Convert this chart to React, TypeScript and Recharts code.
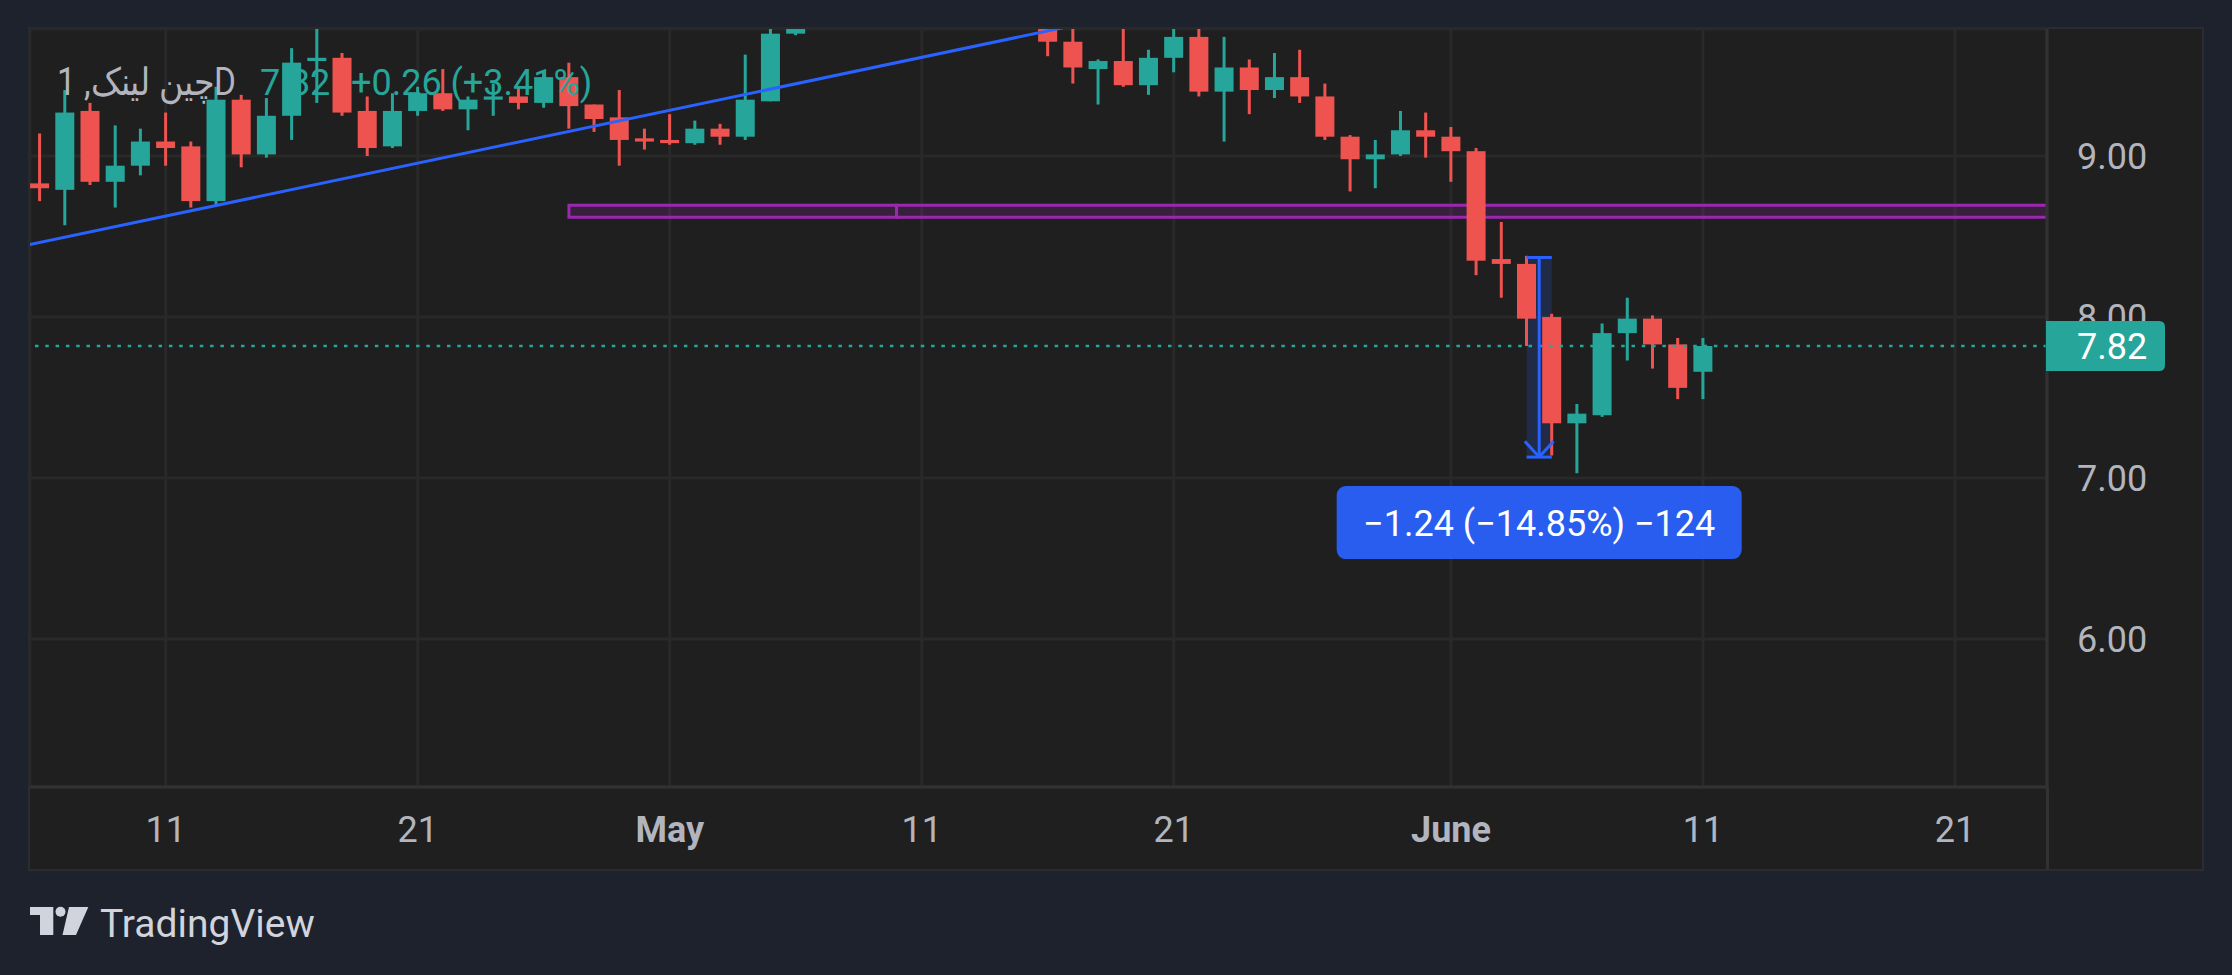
import {
  Bar,
  CartesianGrid,
  ComposedChart,
  ReferenceArea,
  ReferenceLine,
  XAxis,
  YAxis,
} from "recharts";

// day index: days since 1 April (1 Apr = 0)
const days = [
  5, 6, 7, 8, 9, 10, 11, 12, 13, 14, 15, 16, 17, 18, 19, 20, 21, 22, 23, 24, 25,
  26, 27, 28, 29, 30, 31, 32, 33, 34, 35, 45, 46, 47, 48, 49, 50, 51, 52, 53,
  54, 55, 56, 57, 58, 59, 60, 61, 62, 63, 64, 65, 66, 67, 68, 69, 70, 71,
];
const opens = [
  8.83, 8.79, 9.28, 8.84, 8.94, 9.09, 9.06, 8.72, 9.35, 9.01, 9.25, 9.59, 9.61,
  9.28, 9.06, 9.28, 9.39, 9.29, 9.35, 9.37, 9.33, 9.49, 9.32, 9.24, 9.11, 9.1,
  9.08, 9.17, 9.12, 9.34, 9.76, 9.85, 9.71, 9.54, 9.59, 9.44, 9.61, 9.74, 9.4,
  9.55, 9.41, 9.49, 9.37, 9.12, 8.98, 9.01, 9.16, 9.12, 9.03, 8.36, 8.33, 8.0,
  7.34, 7.39, 7.9, 7.99, 7.83, 7.66,
];
const highs = [
  9.14, 9.41, 9.33, 9.19, 9.17, 9.27, 9.09, 9.43, 9.38, 9.36, 9.67, 9.85, 9.64,
  9.37, 9.39, 9.43, 9.54, 9.37, 9.45, 9.43, 9.52, 9.58, 9.32, 9.41, 9.17, 9.26,
  9.22, 9.2, 9.63, 9.85, 10.05, 9.9, 9.82, 9.6, 9.82, 9.66, 9.8, 9.81, 9.74,
  9.6, 9.64, 9.66, 9.45, 9.13, 9.1, 9.28, 9.27, 9.18, 9.05, 8.59, 8.38, 8.02,
  7.46, 7.96, 8.12, 8.01, 7.87, 7.87,
];
const lows = [
  8.72, 8.57, 8.82, 8.68, 8.88, 8.94, 8.68, 8.69, 8.93, 8.99, 9.1, 9.33, 9.25,
  9.0, 9.05, 9.25, 9.28, 9.16, 9.25, 9.29, 9.3, 9.17, 9.15, 8.94, 9.04, 9.07,
  9.07, 9.07, 9.1, 9.34, 9.75, 9.62, 9.45, 9.32, 9.43, 9.38, 9.52, 9.37, 9.09,
  9.26, 9.36, 9.33, 9.1, 8.78, 8.8, 9.0, 8.99, 8.84, 8.26, 8.12, 7.82, 7.14,
  7.03, 7.38, 7.73, 7.68, 7.49, 7.49,
];
const closes = [
  8.8, 9.27, 8.84, 8.94, 9.09, 9.05, 8.72, 9.35, 9.01, 9.25, 9.58, 9.61, 9.27,
  9.05, 9.28, 9.39, 9.29, 9.35, 9.37, 9.33, 9.49, 9.31, 9.23, 9.1, 9.09, 9.08,
  9.17, 9.12, 9.35, 9.76, 9.98, 9.71, 9.55, 9.59, 9.44, 9.61, 9.74, 9.4, 9.55,
  9.41, 9.49, 9.37, 9.12, 8.98, 9.01, 9.16, 9.12, 9.03, 8.35, 8.33, 7.99, 7.34,
  7.4, 7.9, 7.99, 7.83, 7.56, 7.82,
];

const tickDays = [10, 20, 30, 40, 50, 61, 71, 81];
const tickLabels = ["11", "21", "May", "11", "21", "June", "11", "21"];
const monthLabels = ["May", "June"];
const priceTicks = [6, 7, 8, 9];

// drawings on the chart
const trendPoints = [
  { x: 4, y: 8.43 },
  { x: 46, y: 9.81 },
];
const zoneDays = [26, 39, 95];
const zonePrices = [8.619, 8.695];
const measureDays = [64, 65];
const measurePrices = [8.37, 7.13];
const measureText = "−1.24 (−14.85%) −124";

const symbolName = "چین لینک, 1D";
const lastText = "7.82";
const changeText = "+0.26 (+3.41%)";

const UP = "#26a69a";
const DOWN = "#ef5350";
const BLUE = "#2962ff";
const PURPLE = "#9c27b0";
const TEXT = "#b2b5be";

const X_DOMAIN = [4.615, 84.65];
const Y_DOMAIN = [5.081, 9.789];
const MARGIN = { top: 29, right: 30, bottom: 106, left: 30 };

const data = days.map((day, i) => ({
  day,
  open: opens[i],
  high: highs[i],
  low: lows[i],
  close: closes[i],
}));
const lastClose = closes[closes.length - 1];

const Candle = (props: any) => {
  const { x, y, width, height, payload } = props;
  if (!payload || height == null) return null;
  const { open, close, high, low } = payload;
  const color = close >= open ? UP : DOWN;
  const ratio = height / (high - low);
  const top = y + (high - Math.max(open, close)) * ratio;
  const bottom = y + (high - Math.min(open, close)) * ratio;
  const cx = x + width / 2;
  return (
    <g>
      <rect x={cx - 1.5} y={y} width={3} height={height} fill={color} />
      <rect
        x={x}
        y={top}
        width={width}
        height={Math.max(bottom - top, 2)}
        fill={color}
      />
    </g>
  );
};

const DayTick = (props: any) => {
  const { x, y, payload } = props;
  const label = tickLabels[tickDays.indexOf(payload.value)];
  const bold = monthLabels.includes(label);
  return (
    <text
      x={x}
      y={y + 47}
      textAnchor="middle"
      fill={TEXT}
      fontSize={36}
      fontWeight={bold ? 700 : 400}
    >
      {label}
    </text>
  );
};

const PriceTag = (props: any) => {
  const vb = props.viewBox;
  if (!vb) return null;
  const left = vb.x + vb.width - 1;
  const cy = vb.y;
  const w = 119;
  const h = 50;
  const r = 6;
  const t = cy - h / 2;
  const d = `M${left},${t} H${left + w - r} Q${left + w},${t} ${left + w},${t + r} V${t + h - r} Q${left + w},${t + h} ${left + w - r},${t + h} H${left} Z`;
  return (
    <g>
      <path d={d} fill={UP} />
      <text x={left + 31} y={cy + 13} fill="#ffffff" fontSize={36}>
        {lastClose.toFixed(2)}
      </text>
    </g>
  );
};

const MeasureTag = (props: any) => {
  const vb = props.viewBox;
  if (!vb) return null;
  const cx = vb.x + vb.width / 2;
  const w = 405;
  const top = vb.y + 29;
  return (
    <g>
      <rect
        x={cx - w / 2}
        y={top}
        width={w}
        height={73}
        rx={9}
        fill={BLUE}
        fillOpacity={0.93}
      />
      <text
        x={cx}
        y={top + 50}
        textAnchor="middle"
        fill="#ffffff"
        fontSize={36}
      >
        {measureText}
      </text>
    </g>
  );
};

const App = () => {
  const mx = (measureDays[0] + measureDays[1]) / 2;
  const armDx = 0.57;
  const armDy = 0.098;
  return (
    <div
      style={{
        position: "absolute",
        left: 0,
        top: 0,
        width: 2232,
        height: 975,
        background: "#1e222d",
        overflow: "hidden",
        fontFamily: "Roboto, sans-serif",
      }}
    >
      <div
        style={{
          position: "absolute",
          left: 28,
          top: 27,
          width: 2172,
          height: 840,
          background: "#1f1f1f",
          border: "2px solid #2b2c31",
        }}
      />
      <div
        style={{
          position: "absolute",
          left: 2045.5,
          top: 787,
          width: 3,
          height: 82,
          background: "#323232",
        }}
      />
      <div style={{ position: "absolute", left: 0, top: 0 }}>
        <ComposedChart
          width={2232}
          height={975}
          data={data}
          margin={MARGIN}
          style={{ fontFamily: "Roboto, sans-serif" }}
        >
          <CartesianGrid stroke="#292929" strokeWidth={3} />
          <XAxis
            dataKey="day"
            type="number"
            domain={X_DOMAIN}
            allowDataOverflow
            ticks={tickDays}
            interval={0}
            height={82}
            tickLine={false}
            axisLine={{ stroke: "#323232", strokeWidth: 3 }}
            tick={<DayTick />}
          />
          <YAxis
            orientation="right"
            domain={Y_DOMAIN}
            allowDataOverflow
            ticks={priceTicks}
            width={155}
            tickLine={false}
            tickMargin={24}
            axisLine={{ stroke: "#323232", strokeWidth: 3 }}
            tick={{ fill: TEXT, fontSize: 36 }}
            tickFormatter={(v: number) => v.toFixed(2)}
          />
          <ReferenceArea
            x1={zoneDays[0]}
            x2={zoneDays[1]}
            y1={zonePrices[0]}
            y2={zonePrices[1]}
            fill={PURPLE}
            fillOpacity={0.2}
            stroke={PURPLE}
            strokeWidth={3}
            ifOverflow="hidden"
          />
          <ReferenceArea
            x1={zoneDays[1]}
            x2={zoneDays[2]}
            y1={zonePrices[0]}
            y2={zonePrices[1]}
            fill={PURPLE}
            fillOpacity={0.2}
            stroke={PURPLE}
            strokeWidth={3}
            ifOverflow="hidden"
          />
          <ReferenceArea
            x1={measureDays[0]}
            x2={measureDays[1]}
            y1={measurePrices[1]}
            y2={measurePrices[0]}
            fill={BLUE}
            fillOpacity={0.18}
            stroke="none"
          />
          <ReferenceLine
            segment={trendPoints}
            stroke={BLUE}
            strokeWidth={3}
            ifOverflow="hidden"
          />
          <ReferenceLine
            y={lastClose}
            stroke={UP}
            strokeWidth={2.7}
            strokeDasharray="3.5 6.8"
          />
          <ReferenceLine
            segment={[
              { x: mx, y: measurePrices[0] },
              { x: mx, y: measurePrices[1] },
            ]}
            stroke={BLUE}
            strokeWidth={3}
          />
          <ReferenceLine
            segment={[
              { x: measureDays[0], y: measurePrices[0] },
              { x: measureDays[1], y: measurePrices[0] },
            ]}
            stroke={BLUE}
            strokeWidth={3}
          />
          <ReferenceLine
            segment={[
              { x: measureDays[0], y: measurePrices[1] },
              { x: measureDays[1], y: measurePrices[1] },
            ]}
            stroke={BLUE}
            strokeWidth={3}
            label={(p: any) => <MeasureTag {...p} />}
          />
          <ReferenceLine
            segment={[
              { x: mx - armDx, y: measurePrices[1] + armDy },
              { x: mx, y: measurePrices[1] },
            ]}
            stroke={BLUE}
            strokeWidth={3}
          />
          <ReferenceLine
            segment={[
              { x: mx + armDx, y: measurePrices[1] + armDy },
              { x: mx, y: measurePrices[1] },
            ]}
            stroke={BLUE}
            strokeWidth={3}
          />
          <Bar
            dataKey={(d: any) => [d.low, d.high]}
            barSize={19}
            shape={(p: any) => <Candle {...p} />}
            isAnimationActive={false}
          />
        </ComposedChart>
      </div>
      {/* top layer: last price tag over the price scale, same scales */}
      <div style={{ position: "absolute", left: 0, top: 0 }}>
        <ComposedChart
          width={2232}
          height={975}
          data={data}
          margin={MARGIN}
          style={{ fontFamily: "Roboto, sans-serif" }}
        >
          <XAxis
            dataKey="day"
            type="number"
            domain={X_DOMAIN}
            allowDataOverflow
            height={82}
            tick={false}
            tickLine={false}
            axisLine={false}
          />
          <YAxis
            orientation="right"
            domain={Y_DOMAIN}
            allowDataOverflow
            width={155}
            tick={false}
            tickLine={false}
            axisLine={false}
          />
          <ReferenceLine
            y={lastClose}
            stroke="none"
            label={(p: any) => <PriceTag {...p} />}
          />
        </ComposedChart>
      </div>
      <svg
        width={2232}
        height={975}
        style={{ position: "absolute", left: 0, top: 0, pointerEvents: "none" }}
      >
        <text
          x={57}
          y={95}
          fill={TEXT}
          fontSize={38}
          textLength={179}
          lengthAdjust="spacingAndGlyphs"
        >
          {symbolName}
        </text>
        <text x={260} y={95} fill={UP} fontSize={36}>
          {lastText}
        </text>
        <text x={351} y={95} fill={UP} fontSize={36}>
          {changeText}
        </text>
        <g fill="#d1d4dc">
          <path d="M30,907 H53.3 V935 H40 V915 H30 Z" />
          <circle cx={60.5} cy={911.7} r={5} />
          <path d="M69,907 H88.3 L76,935 H62.5 Z" />
        </g>
        <text x={100} y={937} fill="#d1d4dc" fontSize={39}>
          TradingView
        </text>
      </svg>
    </div>
  );
};

export default App;
